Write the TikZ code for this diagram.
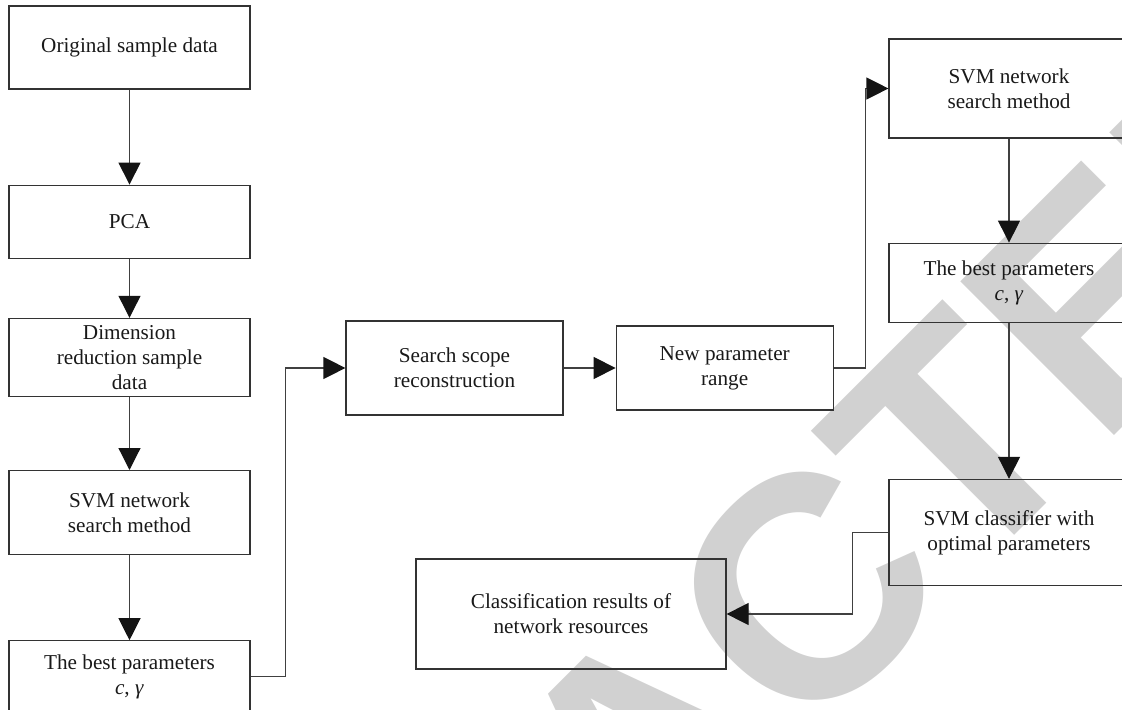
\documentclass[tikz,border=0pt]{standalone}
\usepackage{fontspec}
\setmainfont{Liberation Serif}
\newfontfamily\wmfont{Liberation Sans}
\usetikzlibrary{arrows.meta,positioning}

\begin{document}
\begin{tikzpicture}[x=0.5pt, y=-0.5pt, font=\fontsize{10.6}{12.5}\selectfont,
    main/.style = {draw=black!80, line width=0.6pt, align=center, inner sep=0pt, minimum width=120.5pt, text=black!90},
    freccia/.style = {draw=black!75, line width=0.6pt, -{Triangle[length=11pt, width=11pt, color=black!92]}}]
    \useasboundingbox (0,0) rectangle (1122,710);
    \clip (0,0) rectangle (1122,710);

    % Filigrana sullo sfondo
    \node[rotate=45, text=black!18, font=\wmfont\bfseries\fontsize{158}{158}\selectfont] (filigrana) at (644,752) {RETRACTED};

    % Disegna i blocchi
    \node[main, minimum height=41.5pt] (1) at (129.5,47.5) {Original sample data};
    \node[main, minimum height=36.5pt] (2) [below=47.5pt of 1] {PCA};
    \node[main, minimum height=39pt] (3) [below=29.5pt of 2] {Dimension\\reduction sample\\data};
    \node[main, minimum height=42pt] (4) [below=36.5pt of 3] {SVM network\\search method};
    \node[main, minimum height=36pt] (5) [below=42.5pt of 4] {The best parameters\\\textit{c}, \textit{γ}};

    \node[main, minimum width=108.5pt, minimum height=47pt] (6) at (454.5,368) {Search scope\\reconstruction};
    \node[main, minimum width=108.5pt, minimum height=42pt] (7) [right=26pt of 6] {New parameter\\range};

    \node[main, minimum width=120pt, minimum height=49.5pt] (8) at (1009,88.5) {SVM network\\search method};
    \node[main, minimum width=120pt, minimum height=39.5pt] (9) [below=52pt of 8] {The best parameters\\\textit{c}, \textit{γ}};
    \node[main, minimum width=120pt, minimum height=53pt] (10) [below=78pt of 9] {SVM classifier with\\optimal parameters};

    \node[main, minimum width=155pt, minimum height=55pt] (11) at (571,614) {Classification results of\\network resources};

    % Disegna le frecce
    \draw[freccia] (1) -- (2);
    \draw[freccia] (2) -- (3);
    \draw[freccia] (3) -- (4);
    \draw[freccia] (4) -- (5);
    \draw[freccia] (5.east) -- ++(35,0) |- (6.west);
    \draw[freccia] (6) -- (7);
    \draw[freccia] (7.east) -- ++(32,0) |- (8.west);
    \draw[freccia] (8) -- (9);
    \draw[freccia] (9) -- (10);
    \draw[freccia] (10.west) -- ++(-36,0) |- (11.east);

\end{tikzpicture}
\end{document}
